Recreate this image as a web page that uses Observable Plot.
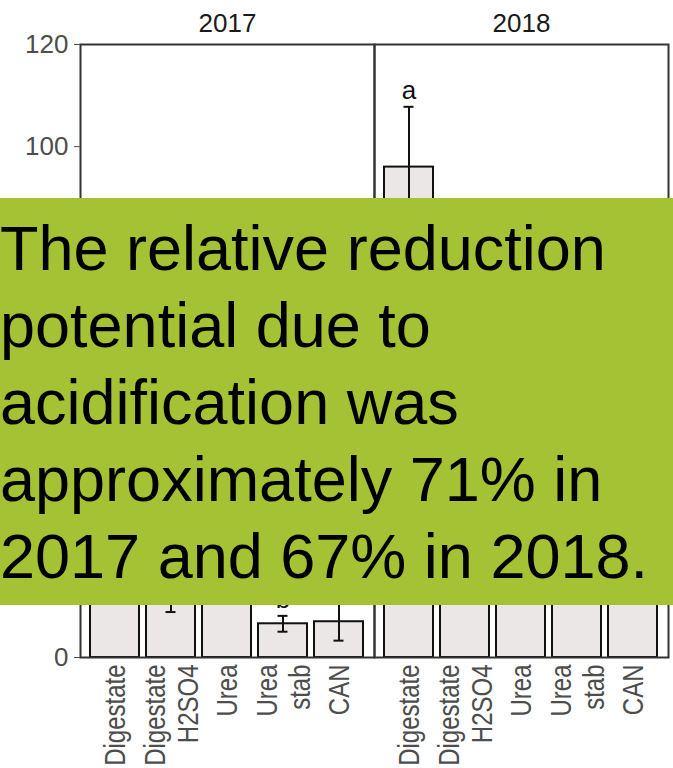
<!DOCTYPE html>
<html>
<head>
<meta charset="utf-8">
<script src="https://cdn.jsdelivr.net/npm/d3@7"></script>
<script src="https://cdn.jsdelivr.net/npm/@observablehq/plot@0.6"></script>
<style>
  html, body { margin: 0; padding: 0; background: #fff; }
  #wrap { position: relative; width: 673px; height: 768px; overflow: hidden; }
  #note {
    position: absolute; left: 0; top: 198px; width: 673px; height: 407px;
    box-sizing: border-box; padding-top: 12px;
    background: #a5c234;
    font-family: "Liberation Sans", Arial, sans-serif;
    font-size: 63px; line-height: 77px; color: #000;
    white-space: nowrap;
  }
</style>
</head>
<body>
<div id="wrap">
  <div id="chart"></div>
  <div id="note">The relative reduction<br>potential due to<br>acidification was<br>approximately 71% in<br>2017 and 67% in 2018.</div>
</div>
<script>
// Years (facets) and fertiliser treatments (bars within each year)
const years = [2017, 2018];
const treatments = ["Digestate", "Digestate\nH2SO4", "Urea", "Urea\nstab", "CAN"];

// Mean emission per treatment and its standard error
const mean2017 = [44.0, 12.8, 18.0, 6.6, 7.0];
const se2017   = [9.0, 3.9, 4.0, 1.55, 3.7];
const mean2018 = [96.0, 31.7, 38.0, 24.0, 28.0];
const se2018   = [11.8, 7.0, 8.0, 6.0, 7.0];

// Significance letters
const letters2017 = ["a", "b", "ab", "b", "b"];
const letters2018 = ["a", "b", "ab", "b", "b"];

const yTicks = [0, 20, 40, 60, 80, 100, 120];

const series = {
  2017: {mean: mean2017, se: se2017, letters: letters2017},
  2018: {mean: mean2018, se: se2018, letters: letters2018}
};

const rows = years.flatMap((year) =>
  treatments.map((treatment, i) => ({
    year,
    treatment,
    mean: series[year].mean[i],
    lo: series[year].mean[i] - series[year].se[i],
    hi: series[year].mean[i] + series[year].se[i],
    letter: series[year].letters[i]
  }))
);

const ink = "#111";

const chart = Plot.plot({
  width: 673,
  height: 768,
  marginLeft: 80,
  marginRight: 5,
  marginTop: 44,
  marginBottom: 111,
  style: {fontFamily: "'Liberation Sans', Arial, sans-serif", background: "white"},
  fx: {domain: years, padding: 0, label: null},
  x: {domain: treatments, paddingInner: 0.12, paddingOuter: 0.15, label: null},
  y: {domain: [0, 120], label: null},
  marks: [
    Plot.barY(rows, {fx: "year", x: "treatment", y: "mean", fill: "#ebe7e6", stroke: ink, strokeWidth: 2}),
    Plot.ruleX(rows, {fx: "year", x: "treatment", y1: "lo", y2: "hi", stroke: ink, strokeWidth: 2}),
    Plot.tickY(rows, {fx: "year", x: "treatment", y: "hi", insetLeft: 19.5, insetRight: 19.5, stroke: ink, strokeWidth: 2}),
    Plot.tickY(rows, {fx: "year", x: "treatment", y: "lo", insetLeft: 19.5, insetRight: 19.5, stroke: ink, strokeWidth: 2}),
    Plot.text(rows, {fx: "year", x: "treatment", y: "hi", text: "letter", dy: -8, lineAnchor: "bottom", fontSize: 26, fill: ink}),
    Plot.frame({stroke: "#333", strokeWidth: 2}),
    Plot.axisFx({anchor: "top", tickSize: 0, tickPadding: 13, fontSize: 26, color: "#1a1a1a", tickFormat: (d) => `${d}`, label: null}),
    Plot.axisY({ticks: yTicks, tickSize: 6, tickPadding: 6, fontSize: 26, color: "#4d4d4d", label: null}),
    Plot.axisX({tickSize: 0, tickPadding: 7, tickRotate: -90, fontSize: 24, lineHeight: 1.125, color: "#4d4d4d", label: null})
  ]
});

// Widen the rotated treatment labels across the glyph height
d3.select(chart)
  .selectAll('g[aria-label="x-axis tick label"] text')
  .attr("transform", function () {
    return `${this.getAttribute("transform") || ""} scale(1,1.2)`;
  });

document.getElementById("chart").appendChild(chart);
</script>
</body>
</html>
